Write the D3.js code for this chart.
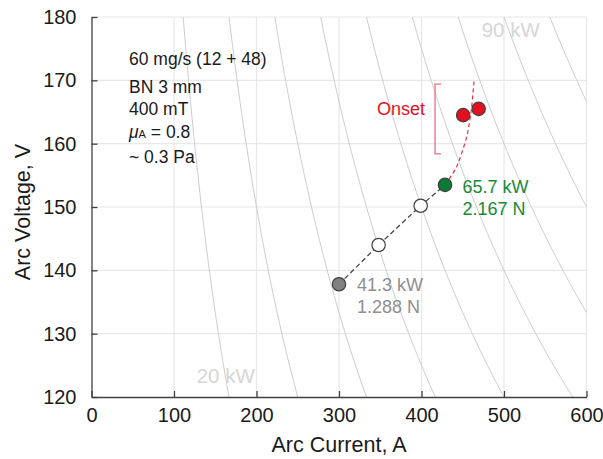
<!DOCTYPE html>
<html>
<head>
<meta charset="utf-8">
<script src="https://cdn.jsdelivr.net/npm/d3@7"></script>
<style>
  body { margin: 0; background: #fff; }
  svg { font-family: "Liberation Sans", Arial, sans-serif; }
</style>
</head>
<body>
<svg id="chart" width="603" height="459"></svg>
<script>
// iso-power reference lines, kW
const powerLevels = [20, 30, 40, 50, 60, 70, 80, 90, 100];
const powerLabels = [
  { text: "20 kW", current: 127.5, voltage: 122.2 },
  { text: "90 kW", current: 473, voltage: 176.9 },
];

// operating points (current A, voltage V)
const pathCurrent = [300, 348, 399, 428.5];
const pathVoltage = [137.8, 144.0, 150.2, 153.5];
const pointKind = ["start", "open", "open", "end"];

const onsetCurrent = [450.5, 469.3];
const onsetVoltage = [164.5, 165.5];

// red dashed trend into onset
const trendCurrent = [428.5, 434.5, 442.7, 448.7, 454.8, 458.0, 460.8, 463.6];
const trendVoltage = [153.5, 154.6, 156.4, 158.5, 161.1, 163.2, 165.8, 169.8];

const bracketCurrent = 416.4;
const bracketVoltage = [158.4, 169.4];

const xTicks = [0, 100, 200, 300, 400, 500, 600];
const yTicks = [120, 130, 140, 150, 160, 170, 180];

const notes = ["60 mg/s (12 + 48)", "BN 3 mm", "400 mT", "μA = 0.8", "~ 0.3 Pa"];

const svg = d3.select("#chart");
const margin = { top: 17, right: 16.5, bottom: 62, left: 91.5 };
const width = 603, height = 459;
const innerWidth = width - margin.left - margin.right;
const innerHeight = height - margin.top - margin.bottom;

const x = d3.scaleLinear().domain([0, 600]).range([0, innerWidth]);
const y = d3.scaleLinear().domain([120, 180]).range([innerHeight, 0]);

const root = svg.append("g").attr("transform", `translate(${margin.left},${margin.top})`);

root.append("clipPath").attr("id", "plot-clip")
  .append("rect").attr("width", innerWidth).attr("height", innerHeight);

// grid
root.append("g")
  .selectAll("line")
  .data(xTicks.slice(1))
  .join("line")
  .attr("x1", (d) => x(d)).attr("x2", (d) => x(d))
  .attr("y1", 0).attr("y2", innerHeight)
  .attr("stroke", "#e8e8e8").attr("stroke-width", 1.2);
root.append("g")
  .selectAll("line")
  .data(yTicks.slice(1))
  .join("line")
  .attr("x1", 0).attr("x2", innerWidth)
  .attr("y1", (d) => y(d)).attr("y2", (d) => y(d))
  .attr("stroke", "#e8e8e8").attr("stroke-width", 1.2);

// iso-power curves V = P / I
const isoGroup = root.append("g").attr("clip-path", "url(#plot-clip)");
const isoLine = d3.line().x((d) => x(d[0])).y((d) => y(d[1]));
powerLevels.forEach((p) => {
  const pts = d3.range(80, 620, 2).map((i) => [i, (p * 1000) / i]);
  isoGroup.append("path")
    .attr("d", isoLine(pts))
    .attr("fill", "none")
    .attr("stroke", "#cdcdcd")
    .attr("stroke-width", 1);
});

root.append("g")
  .selectAll("text")
  .data(powerLabels)
  .join("text")
  .attr("x", (d) => x(d.current))
  .attr("y", (d) => y(d.voltage))
  .attr("font-size", 20.5)
  .attr("fill", "#d6d6d6")
  .text((d) => d.text);

// axes
const xAxis = root.append("g")
  .attr("transform", `translate(0,${innerHeight})`)
  .call(d3.axisBottom(x).tickValues(xTicks).tickSizeInner(-6).tickSizeOuter(0).tickPadding(11));
const yAxis = root.append("g")
  .call(d3.axisLeft(y).tickValues(yTicks).tickSizeInner(-6).tickSizeOuter(0).tickPadding(15));
[xAxis, yAxis].forEach((g) => {
  g.select(".domain").attr("stroke", "#404040").attr("stroke-width", 1.3);
  g.selectAll(".tick line").attr("stroke", "#404040").attr("stroke-width", 1.3);
  g.selectAll(".tick text")
    .attr("font-size", 20)
    .attr("font-family", "Liberation Sans, Arial, sans-serif")
    .attr("fill", "#1a1a1a");
});

root.append("text")
  .attr("x", innerWidth / 2)
  .attr("y", innerHeight + 55)
  .attr("text-anchor", "middle")
  .attr("font-size", 21.5)
  .attr("fill", "#1a1a1a")
  .text("Arc Current, A");

root.append("text")
  .attr("transform", "rotate(-90)")
  .attr("x", -(212 - margin.top))
  .attr("y", 30 - margin.left)
  .attr("text-anchor", "middle")
  .attr("font-size", 21.5)
  .attr("fill", "#1a1a1a")
  .text("Arc Voltage, V");

// condition notes
const noteY = [65, 92.5, 115, 138, 162.5];
const notesGroup = svg.append("g").attr("font-size", 17.5).attr("fill", "#1a1a1a");
notes.forEach((n, i) => {
  const t = notesGroup.append("text").attr("x", 129).attr("y", noteY[i]);
  if (n.startsWith("μA")) {
    t.append("tspan").attr("font-style", "italic").text("μ");
    t.append("tspan").attr("font-size", 11).text("A");
    t.append("tspan").text(" = 0.8");
  } else {
    t.text(n);
  }
});

// onset bracket
const bx = x(bracketCurrent);
root.append("path")
  .attr("d", `M${bx + 6},${y(bracketVoltage[1])} H${bx} V${y(bracketVoltage[0])} H${bx + 6}`)
  .attr("fill", "none")
  .attr("stroke", "#e8707c")
  .attr("stroke-width", 1.3);
root.append("text")
  .attr("x", 425 - margin.left)
  .attr("y", 115 - margin.top)
  .attr("text-anchor", "end")
  .attr("font-size", 18)
  .attr("fill", "#e3101f")
  .text("Onset");

// trend lines
root.append("path")
  .attr("d", d3.line().curve(d3.curveCatmullRom)
    .x((d, i) => x(trendCurrent[i])).y((d, i) => y(trendVoltage[i]))(trendCurrent))
  .attr("fill", "none")
  .attr("stroke", "#e8303f")
  .attr("stroke-width", 1.2)
  .attr("stroke-dasharray", "4,3");

root.append("path")
  .attr("d", d3.line().x((d, i) => x(pathCurrent[i])).y((d, i) => y(pathVoltage[i]))(pathCurrent))
  .attr("fill", "none")
  .attr("stroke", "#444")
  .attr("stroke-width", 1.3)
  .attr("stroke-dasharray", "5,3");

// markers
const fillFor = { start: "#808080", open: "#ffffff", end: "#0b7a33" };
root.append("g")
  .selectAll("circle")
  .data(pathCurrent)
  .join("circle")
  .attr("cx", (d) => x(d))
  .attr("cy", (d, i) => y(pathVoltage[i]))
  .attr("r", 6.7)
  .attr("fill", (d, i) => fillFor[pointKind[i]])
  .attr("stroke", "#404040")
  .attr("stroke-width", 1.2);

root.append("g")
  .selectAll("circle")
  .data(onsetCurrent)
  .join("circle")
  .attr("cx", (d) => x(d))
  .attr("cy", (d, i) => y(onsetVoltage[i]))
  .attr("r", 6.7)
  .attr("fill", "#e3101f")
  .attr("stroke", "#404040")
  .attr("stroke-width", 1.2);

// point annotations
const endLabel = root.append("g").attr("font-size", 18).attr("fill", "#168a3a");
endLabel.append("text").attr("x", x(428.5) + 17.5).attr("y", y(153.5) + 8).text("65.7 kW");
endLabel.append("text").attr("x", x(428.5) + 17.5).attr("y", y(153.5) + 30).text("2.167 N");

const startLabel = root.append("g").attr("font-size", 18).attr("fill", "#8f8f8f");
startLabel.append("text").attr("x", x(300) + 18).attr("y", y(137.8) + 7).text("41.3 kW");
startLabel.append("text").attr("x", x(300) + 18).attr("y", y(137.8) + 29).text("1.288 N");
</script>
</body>
</html>
